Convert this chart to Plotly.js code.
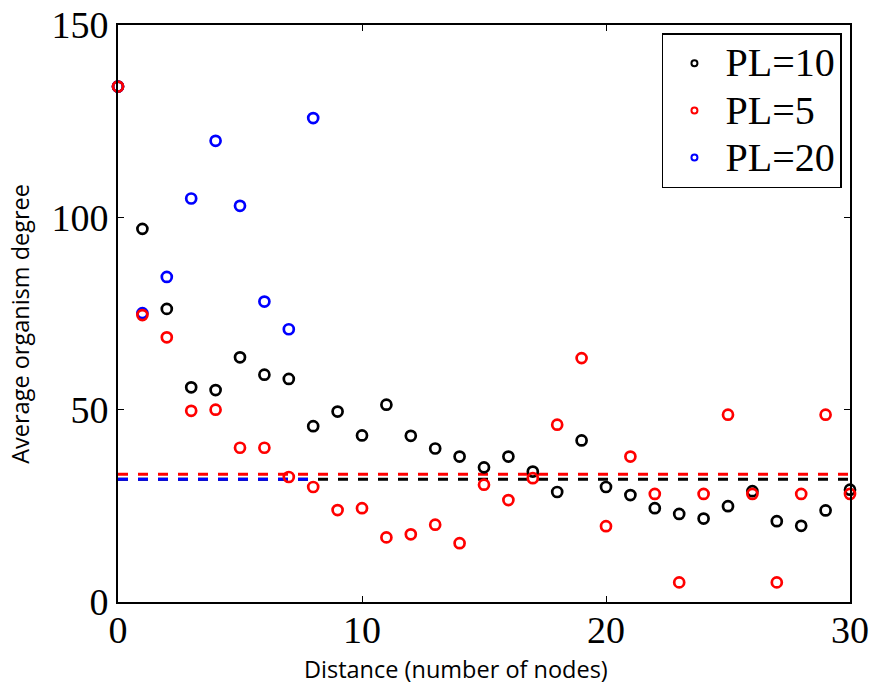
<!DOCTYPE html>
<html>
<head>
<meta charset="utf-8">
<script src="https://cdn.plot.ly/plotly-3.0.1.min.js"></script>
<style>html,body{margin:0;padding:0;background:#fff;}#chart{width:875px;height:690px;}</style>
</head>
<body>
<div id="chart"></div>
<script>
// Distance (number of nodes)
var distPL10 = [0,1,2,3,4,5,6,7,8,9,10,11,12,13,14,15,16,17,18,19,20,21,22,23,24,25,26,27,28,29,30];
var degPL10  = [134,97,76.2,55.8,55.1,63.6,59.1,58.0,45.7,49.5,43.3,51.3,43.2,39.9,37.8,35.0,37.8,33.9,28.6,42.0,29.9,27.8,24.4,22.9,21.7,24.9,28.8,21.0,19.8,23.8,29.2];

var distPL5 = [0,1,2,3,4,5,6,7,8,9,10,11,12,13,14,15,16,17,18,19,20,21,22,23,24,25,26,27,28,29,30];
var degPL5  = [134,74.6,68.8,49.7,50.0,40.1,40.1,32.5,29.9,23.9,24.4,16.8,17.6,20.1,15.3,30.5,26.5,32.2,46.1,63.4,19.7,37.8,28.1,5.1,28.1,48.7,28.1,5.1,28.1,48.7,28.1];

var distPL20 = [0,1,2,3,4,5,6,7,8];
var degPL20  = [134,75.1,84.5,104.9,119.9,103.0,78.1,70.9,125.8];

// Mean degree reference lines
var meanPL10 = 31.9, meanPL5 = 33.2, meanPL20 = 31.9;
var spanPL10 = [0,30], spanPL5 = [0,30], spanPL20 = [0,8];

var legendNames = ['PL=10','PL=5','PL=20'];
var colors = ['#000000','#ff0000','#0000ff'];
var xTitle = 'Distance (number of nodes)';
var yTitle = 'Average organism degree';

var markerBase = function(c){ return {symbol:'circle-open', size:10, color:c, line:{width:2.7, color:c}}; };

var traces = [
  {x: spanPL10, y:[meanPL10,meanPL10], mode:'lines', line:{color:colors[0], width:3, dash:'10px,10px'}, showlegend:false, hoverinfo:'skip'},
  {x: spanPL5, y:[meanPL5,meanPL5], mode:'lines', line:{color:colors[1], width:3, dash:'10px,10px'}, showlegend:false, hoverinfo:'skip'},
  {x: spanPL20, y:[meanPL20,meanPL20], mode:'lines', line:{color:colors[2], width:3, dash:'10px,10px'}, showlegend:false, hoverinfo:'skip'},
  {x: distPL10, y: degPL10, mode:'markers', marker: markerBase(colors[0]), showlegend:false, cliponaxis:false},
  {x: distPL20, y: degPL20, mode:'markers', marker: markerBase(colors[2]), showlegend:false, cliponaxis:false},
  {x: distPL5, y: degPL5, mode:'markers', marker: markerBase(colors[1]), showlegend:false, cliponaxis:false}
];
for (var i=0;i<3;i++){
  traces.push({x:[null], y:[null], mode:'markers',
    name: '<span style="font-size:40px">' + legendNames[i] + '</span>',
    marker:{symbol:'circle-open', size:6, color:colors[i], line:{width:2, color:colors[i]}}});
}

var serif = 'Liberation Serif, Times New Roman, serif';
var sans = 'Open Sans, sans-serif';

var layout = {
  width: 875, height: 690,
  margin: {l:118, r:25, t:25, b:88},
  paper_bgcolor:'#fff', plot_bgcolor:'#fff',
  showlegend: true,
  legend: {x:0.989, y:0.986, xanchor:'right', yanchor:'top',
    bordercolor:'#000', borderwidth:1.5, bgcolor:'#fff',
    font:{family:serif, size:34, color:'#000'},
    tracegroupgap:0, itemwidth:52},
  xaxis: {range:[0,30], tickvals:[0,10,20,30], ticktext:['0','10','20','30'],
    ticks:'inside', ticklen:6, tickwidth:1, tickcolor:'#000',
    showline:true, linecolor:'#000', linewidth:2, mirror:'ticks',
    showgrid:false, zeroline:false, ticklabelstandoff:-7,
    tickfont:{family:serif, size:38, color:'#000'}
  },
  yaxis: {range:[0,150], tickvals:[0,50,100,150], ticktext:['0','50','100','150'],
    ticks:'inside', ticklen:6, tickwidth:1, tickcolor:'#000',
    showline:true, linecolor:'#000', linewidth:2, mirror:'ticks',
    showgrid:false, zeroline:false,
    tickfont:{family:serif, size:38, color:'#000'}
  },
  annotations: [
    {text:xTitle, xref:'paper', yref:'paper', x:0.462, y:-0.116, xanchor:'center', yanchor:'middle',
     showarrow:false, font:{family:sans, size:23.5, color:'#000'}},
    {text:yTitle, xref:'paper', yref:'paper', x:-0.134, y:0.482, xanchor:'center', yanchor:'middle',
     textangle:-90, showarrow:false, font:{family:sans, size:23.5, color:'#000'}}
  ]
};

Plotly.newPlot('chart', traces, layout, {displayModeBar:false, staticPlot:true});
</script>
</body>
</html>
